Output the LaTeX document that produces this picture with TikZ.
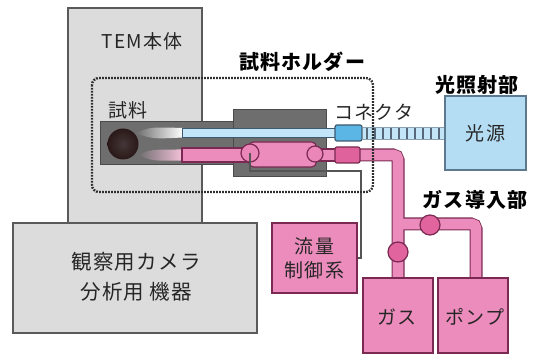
\documentclass[tikz,border=0pt]{standalone}
\usepackage{fontspec}
\newfontfamily\jp[LetterSpace=6]{Noto Sans CJK JP}
\definecolor{bodygray}{HTML}{DCDCDC}
\definecolor{edgegray}{HTML}{5A5A5A}
\definecolor{rodgray}{HTML}{6E6E6E}
\definecolor{rodedge}{HTML}{4A4A4A}
\definecolor{tubeblue}{HTML}{C2E5F8}
\definecolor{tubeedge}{HTML}{3E5A70}
\definecolor{conblue}{HTML}{5BB5E5}
\definecolor{srcblue}{HTML}{B4DDF3}
\definecolor{srcedge}{HTML}{5B7A90}
\definecolor{pinkfill}{HTML}{EC8CBC}
\definecolor{pinkedge}{HTML}{7A2A52}
\definecolor{valvepink}{HTML}{E2649F}
\definecolor{conpink}{HTML}{E0629C}
\definecolor{glowpink}{HTML}{F7C3DC}
\definecolor{spheredark}{HTML}{2A1818}
\definecolor{wiregray}{HTML}{555555}
\definecolor{dotgray}{HTML}{2E2E2E}
\definecolor{stripe}{HTML}{56687A}
\tikzset{
  graybox/.style={draw=edgegray, fill=bodygray, line width=1.2pt},
  pinkbox/.style={draw=pinkedge, fill=pinkfill, line width=1.2pt},
  valve/.style={circle, draw=pinkedge, fill=valvepink, line width=1.2pt, minimum size=20pt, inner sep=0pt},
  endcap/.style={circle, draw=pinkedge, fill=pinkfill!85!valvepink, line width=1.2pt, inner sep=0pt},
  txt/.style={font=\jp\fontsize{19}{30}\selectfont, inner sep=0pt, align=center, text=black!85},
  heading/.style={font=\jp\bfseries\fontsize{20}{24}\selectfont, inner sep=0pt, text=black},
  pipeborder/.style={draw=pinkedge, line width=13pt, rounded corners=5pt},
  pipecore/.style={draw=pinkfill, line width=10.6pt, rounded corners=4pt},
  holderline/.style={draw=dotgray, line width=2.4pt, dash pattern=on 1.7pt off 1.3pt, rounded corners=7pt},
}
\begin{document}
\begin{tikzpicture}[x=1pt,y=-1pt]
\useasboundingbox (0,0) rectangle (536,355);

% microscope column and the camera / analysis unit below it
\node[graybox, minimum width=134pt, minimum height=222pt] (tem) at (135,119) {};
\node[graybox, minimum width=244pt, minimum height=110pt] (cam) at (135,278) {};
\node[txt, font=\jp\fontsize{20.5}{30}\selectfont] (camlabel) at (136,277) {観察用カメラ\\分析用\hspace{5pt}機器};
\node[txt] (temlabel) at (142,41) {TEM本体};

% holder rod with the specimen at its tip
\node[draw=rodedge, fill=rodgray, line width=1pt, minimum width=133pt, minimum height=43pt] (rod) at (166.5,143.5) {};
\shade[left color=rodgray, right color=white] (136,133) .. controls (150,127) .. (183,128) -- (183,137.5) .. controls (152,139) .. (136,133) -- cycle;
\shade[left color=rodgray, right color=glowpink] (138,155) .. controls (150,149.5) .. (183,149.5) -- (183,160.5) .. controls (152,161) .. (138,155) -- cycle;
\shade[inner color=spheredark!70!gray, outer color=spheredark] (123,144) circle (15.5pt);
\node[circle, minimum size=31pt, inner sep=0pt] (sample) at (123,144) {};
\node[txt] (samplelabel) at (128,110) {試料};

% holder block
\node[draw=rodedge, fill=rodgray, line width=1pt, minimum width=93pt, minimum height=67pt] (block) at (279.5,143.5) {};

% light guide
\node[draw=tubeedge, fill=tubeblue, line width=0.8pt, minimum width=155pt, minimum height=9pt, inner sep=0pt] (fibre) at (259.5,132.5) {};

% gas line inside the holder
\node[draw=pinkedge, fill=pinkfill, line width=1.2pt, minimum width=70pt, minimum height=14pt, inner sep=0pt] (gastube) at (217,155) {};
\node[draw=pinkedge, fill=pinkfill, line width=1.2pt, minimum width=24pt, minimum height=12pt, inner sep=0pt] (gasstub) at (325,155) {};
\node[draw=pinkedge, fill=pinkfill, line width=1.2pt, rounded corners=5pt, minimum width=68pt, minimum height=25pt, inner sep=0pt] (cyl) at (282.5,154.5) {};
\node[endcap, minimum size=18pt] (capl) at (250,153) {};
\node[endcap, minimum size=16pt] (capr) at (315,154) {};

% external gas piping
\draw[pipeborder] (354,155) -- (398,155) -- (398,279);
\draw[pipeborder] (398,224) -- (476,224) -- (476,279);
\draw[pipecore] (354,155) -- (398,155) -- (398,279);
\draw[pipecore] (398,224) -- (476,224) -- (476,279);
\node[valve] (valvea) at (430,225) {};
\node[valve] (valveb) at (398,252) {};

% connectors
\node[draw=pinkedge, fill=conpink, line width=1.2pt, rounded corners=2pt, minimum width=25pt, minimum height=16pt, inner sep=0pt] (pinkcon) at (347.5,155) {};
\node[draw=tubeedge, fill=conblue, line width=1.2pt, rounded corners=2pt, minimum width=27pt, minimum height=16pt, inner sep=0pt] (bluecon) at (348.5,133) {};
\node[txt] (conlabel) at (374,112) {コネクタ};

% light source and the fibre running to it
\node[draw=srcedge, fill=srcblue, line width=1.2pt, minimum width=81pt, minimum height=74pt] (src) at (485.5,133) {};
\node[txt] (srclabel) at (src.center) {光源};
\fill[tubeblue] ([yshift=-6pt]bluecon.east) rectangle ([yshift=6pt]src.west);
\foreach \x in {367,375,...,439}
  \draw[stripe, line width=2.2pt] (\x,127) -- (\x,139);
\draw[srcedge!70, line width=0.6pt] ([yshift=-6pt]bluecon.east) -- ([yshift=-6pt]src.west)
  ([yshift=6pt]bluecon.east) -- ([yshift=6pt]src.west);
\node[heading] (srchead) at (477,85) {光照射部};

% gas supply, pump and flow controller
\node[pinkbox, minimum width=70pt, minimum height=75pt] (gas) at (398,315.5) {};
\node[txt] (gaslabel) at (397,317) {ガス};
\node[pinkbox, minimum width=70pt, minimum height=75pt] (pump) at (473,315.5) {};
\node[txt] (pumplabel) at (475,317) {ポンプ};
\node[pinkbox, minimum width=85pt, minimum height=70pt] (flow) at (314.5,258) {};
\node[txt, font=\jp\fontsize{19}{24}\selectfont] (flowlabel) at (flow.center) {流量\\制御系};
\node[heading] (gashead) at (475,200) {ガス導入部};

% control line from the holder to the flow controller
\draw[wiregray, line width=1.3pt] (capl.center) -- (250,171) -- (361,171) |- (flow.east);

% outline of the specimen holder
\draw[holderline] (92,78) rectangle (373,192);
\node[heading] (holderhead) at (302,62) {試料ホルダー};
\end{tikzpicture}
\end{document}
